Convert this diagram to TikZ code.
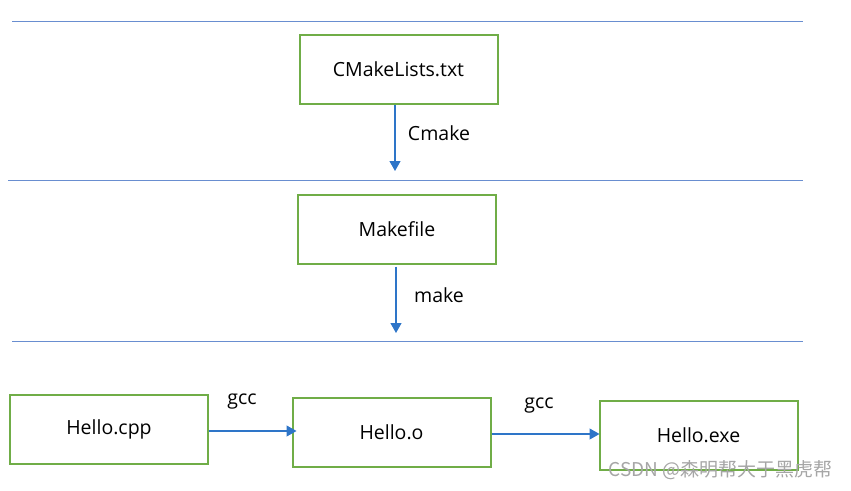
\documentclass[tikz,border=0pt]{standalone}
\usepackage{fontspec}
\setmainfont{Open Sans}
\newfontfamily\cjkfont{Noto Sans CJK SC}
\usetikzlibrary{arrows.meta}

\definecolor{boxgreen}{RGB}{112,173,71}
\definecolor{lineblue}{RGB}{68,114,196}
\definecolor{arrowblue}{RGB}{46,117,200}

\tikzset{
  filebox/.style={draw=boxgreen,line width=2pt,minimum width=198pt,minimum height=69pt,
                  inner sep=0pt,font=\fontsize{19.5}{23}\selectfont},
  sepline/.style={draw=lineblue!80,line width=1pt},
  flow/.style={draw=arrowblue,line width=1.2pt,-{Triangle[width=11pt,length=10pt]}},
  steplabel/.style={font=\fontsize{19.5}{23}\selectfont}
}

\begin{document}
\begin{tikzpicture}[x=1pt,y=-1pt]
  \useasboundingbox (0,0) rectangle (851,490);

% separating lines
  \draw[sepline] (12,21) -- (803,21);
  \draw[sepline] (8,180) -- (803,180);
  \draw[sepline] (12,341) -- (803,341);

% files
  \node[filebox] (cmakelists) at (398.5,69.5) {CMakeLists.txt};
  \node[filebox] (makefile) at (397,229) {Makefile};
  \node[filebox] (cpp) at (109,429.5) {Hello.cpp};
  \node[filebox] (obj) at (391.5,432.5) {Hello.o};
  \node[filebox] (exe) at (698.5,435.5) {Hello.exe};

% arrow ends
  \coordinate (cmakeend) at (395,171);
  \coordinate (makeend) at (396,333);

% steps
  \draw[flow] (cmakelists.south -| cmakeend) -- (cmakeend);
  \draw[flow] ([yshift=-2pt]makefile.south -| makeend) -- (makeend);
  \draw[flow] ([yshift=-1.5pt]cpp.east) -- ([xshift=5pt,yshift=-1.5pt]cpp.east -| obj.west);
  \draw[flow] ([yshift=-1.5pt]obj.east) -- ([xshift=1pt,yshift=-1.5pt]obj.east -| exe.west);

  \node[steplabel] (cmake) at (439,133) {Cmake};
  \node[steplabel] (make) at (439,295) {make};
  \node[steplabel] (gcca) at (242,402) {gcc};
  \node[steplabel] (gccb) at (539,406) {gcc};

% watermark
  \node[text=black!35,font=\cjkfont\fontsize{19}{22}\selectfont,anchor=east] (mark) at (836,470) {CSDN @森明帮大于黑虎帮};
\end{tikzpicture}
\end{document}
